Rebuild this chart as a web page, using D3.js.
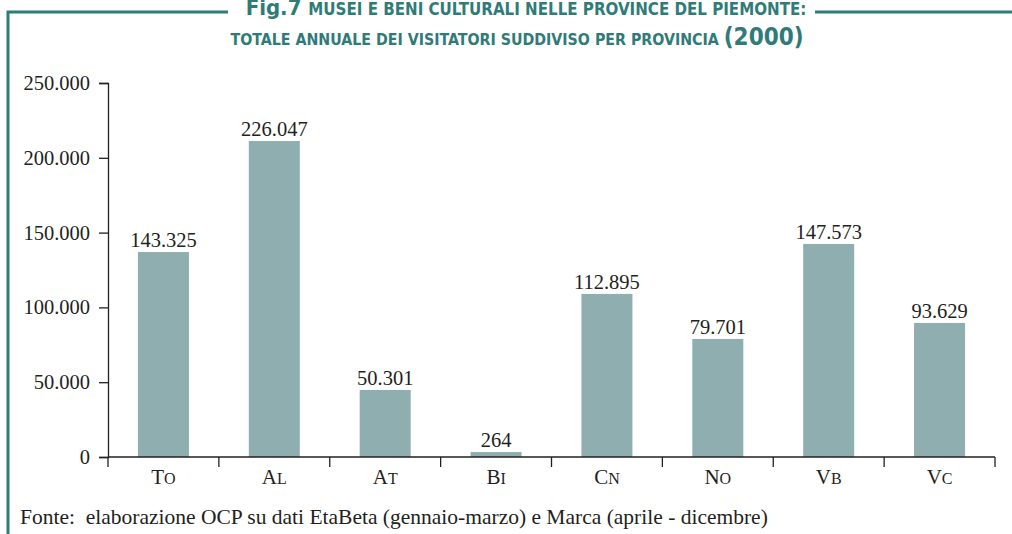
<!DOCTYPE html>
<html>
<head>
<meta charset="utf-8">
<script src="https://cdn.jsdelivr.net/npm/d3@7"></script>
<style>
  body { margin: 0; background: #fff; }
  svg { display: block; }
</style>
</head>
<body>
<div id="chart"></div>
<script>
// province (small caps: first letter big, rest small)
var provinces = [['T', 'o'], ['A', 'l'], ['A', 't'], ['B', 'i'], ['C', 'n'], ['N', 'o'], ['V', 'b'], ['V', 'c']]
// bar heights as drawn in the figure
var visitors = [137000, 211200, 44800, 3300, 109000, 78900, 142400, 89600]
// labels printed over the bars
var valueLabels = ['143.325', '226.047', '50.301', '264', '112.895', '79.701', '147.573', '93.629']
var yTicks = [0, 50000, 100000, 150000, 200000, 250000]
var yTickLabels = ['0', '50.000', '100.000', '150.000', '200.000', '250.000']

var data = provinces.map(function(p, i) {
  return {key: p[0] + p[1], cap: p[0], rest: p[1], value: visitors[i], label: valueLabels[i]}
})

var width = 1012
var height = 534
var teal = '#2f7b78'
var ink = '#231f20'
var serif = '"Liberation Serif", "DejaVu Serif", serif'

var svg = d3.select('#chart')
  .append('svg')
    .attr('width', width)
    .attr('height', height)

// frame
svg.append('path')
  .attr('d', 'M8,534 V12 H228 M815,12 H1012')
  .attr('fill', 'none')
  .attr('stroke', teal)
  .attr('stroke-width', 3)

// title
var title = svg.append('g')
  .attr('fill', teal)
  .attr('font-family', '"DejaVu Sans Condensed", "DejaVu Sans", sans-serif')
  .attr('font-weight', 'bold')
  .attr('text-anchor', 'middle')

var t1 = title.append('text').attr('x', 526).attr('y', 15)
t1.append('tspan').attr('font-size', 22).text('Fig.7 ')
t1.append('tspan').attr('font-size', 16.8).text('MUSEI E BENI CULTURALI NELLE PROVINCE DEL PIEMONTE:')

var t2 = title.append('text').attr('x', 517).attr('y', 45)
t2.append('tspan').attr('font-size', 15.8).text('TOTALE ANNUALE DEI VISITATORI SUDDIVISO PER PROVINCIA ')
t2.append('tspan').attr('font-size', 24).text('(2000)')

// scales
var x = d3.scaleBand()
  .domain(data.map(function(d) { return d.key }))
  .range([108, 995])
  .paddingInner(0.54)
  .paddingOuter(0.27)

var y = d3.scaleLinear()
  .domain([0, 250000])
  .range([457, 83])

// bars
svg.selectAll('rect.bar')
  .data(data)
  .enter().append('rect')
    .attr('class', 'bar')
    .attr('x', function(d) { return x(d.key) })
    .attr('y', function(d) { return y(d.value) })
    .attr('width', x.bandwidth())
    .attr('height', function(d) { return y(0) - y(d.value) })
    .attr('fill', '#8eaeb0')

// value labels
svg.selectAll('text.val')
  .data(data)
  .enter().append('text')
    .attr('class', 'val')
    .attr('x', function(d) { return x(d.key) + x.bandwidth() / 2 })
    .attr('y', function(d) { return y(d.value) - 5 })
    .attr('text-anchor', 'middle')
    .attr('font-family', serif)
    .attr('font-size', 20.5)
    .attr('fill', ink)
    .text(function(d) { return d.label })

// y axis
var yAxis = svg.append('g')
  .attr('transform', 'translate(108,0)')
  .call(d3.axisLeft(y)
    .tickValues(yTicks)
    .tickFormat(function(d, i) { return yTickLabels[i] })
    .tickSize(9)
    .tickPadding(9))
yAxis.select('.domain').attr('stroke', ink).attr('stroke-width', 1.3)
yAxis.selectAll('.tick line').attr('stroke', ink).attr('stroke-width', 1.3)
yAxis.selectAll('.tick text')
  .attr('font-family', serif)
  .attr('font-size', 20.5)
  .attr('fill', ink)

// x axis: ticks at band boundaries
var xAxis = svg.append('g')
  .attr('transform', 'translate(0,457)')
xAxis.append('line')
  .attr('x1', 108).attr('x2', 995)
  .attr('stroke', ink).attr('stroke-width', 1.3)
var step = x.step()
var bounds = d3.range(data.length + 1).map(function(i) {
  return i < data.length ? x(data[i].key) - step * x.paddingInner() / 2 : 995
})
bounds[0] = 108
xAxis.selectAll('line.tk')
  .data(bounds)
  .enter().append('line')
    .attr('class', 'tk')
    .attr('x1', function(d) { return d }).attr('x2', function(d) { return d })
    .attr('y1', 0).attr('y2', 10)
    .attr('stroke', ink).attr('stroke-width', 1.3)

var cats = xAxis.selectAll('text.cat')
  .data(data)
  .enter().append('text')
    .attr('class', 'cat')
    .attr('x', function(d) { return x(d.key) + x.bandwidth() / 2 })
    .attr('y', 27)
    .attr('text-anchor', 'middle')
    .attr('font-family', serif)
    .attr('fill', ink)
cats.append('tspan').attr('font-size', 21).text(function(d) { return d.cap })
cats.append('tspan').attr('font-size', 16).text(function(d) { return d.rest.toUpperCase() })

// source
svg.append('text')
  .attr('x', 20)
  .attr('y', 524)
  .attr('font-family', serif)
  .attr('font-size', 21.5)
  .attr('fill', ink)
  .attr('xml:space', 'preserve')
  .text('Fonte:  elaborazione OCP su dati EtaBeta (gennaio-marzo) e Marca (aprile - dicembre)')
</script>
</body>
</html>
